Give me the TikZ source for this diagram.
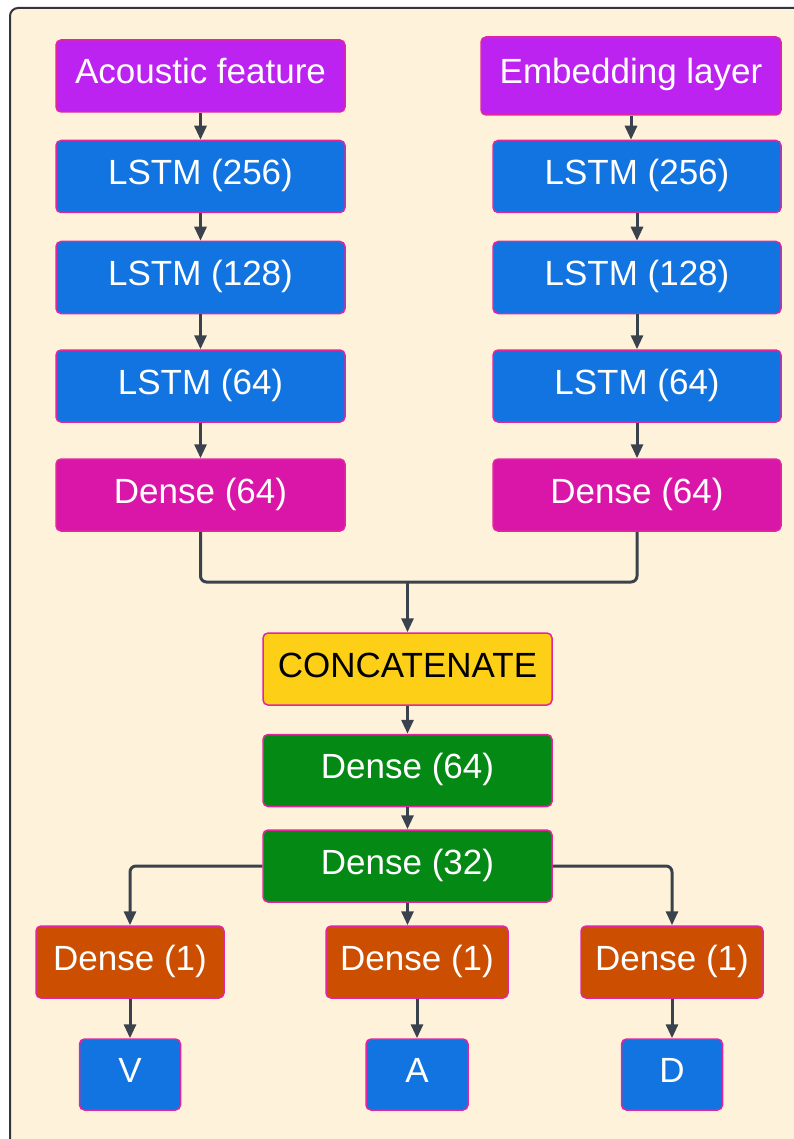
\documentclass[tikz,border=0pt]{standalone}
\usepackage{fontspec}
\setmainfont{Liberation Sans}
\usetikzlibrary{arrows.meta,calc}
\definecolor{cream}{HTML}{FFF2DB}
\definecolor{frameline}{HTML}{33373D}
\definecolor{cpurple}{HTML}{BC22F0}
\definecolor{cblue}{HTML}{1174E1}
\definecolor{cpink}{HTML}{DA16A8}
\definecolor{cyellow}{HTML}{FDCF16}
\definecolor{cgreen}{HTML}{048A14}
\definecolor{corange}{HTML}{CC4E00}
\definecolor{edgepink}{HTML}{E0279E}
\definecolor{wire}{HTML}{3A424D}
\tikzset{
  layer/.style={draw=edgepink, line width=1.5pt, rounded corners=5pt, inner sep=0pt,
    text=white, font=\fontsize{35}{42}\selectfont, align=center,
    text height=26pt, text depth=10pt},
  wide/.style={layer, minimum width=289pt, minimum height=72pt},
  purplebox/.style={fill=cpurple},
  bluebox/.style={fill=cblue},
  pinkbox/.style={fill=cpink},
  greenbox/.style={fill=cgreen},
  orangebox/.style={layer, fill=corange, minimum width=184pt, minimum height=72pt},
  outbox/.style={layer, fill=cblue, minimum width=101pt, minimum height=71pt},
  link/.style={draw=wire, line width=3pt, -{Triangle[length=14pt,width=12pt]}},
  joint/.style={draw=wire, line width=3pt, rounded corners=6pt}
}
\begin{document}
\begin{tikzpicture}[x=1pt,y=-1pt]
\useasboundingbox (0,0) rectangle (794,1139);
\fill[white] (0,0) rectangle (794,1139);
\begin{scope}
\clip (0,0) rectangle (794,1139);
\draw[draw=frameline, line width=2pt, fill=cream, rounded corners=8pt] (10,8) rectangle (830,1180);
\end{scope}

% audio branch
\node[wide, purplebox] (af) at (200.5,76) {Acoustic feature};
\node[wide, bluebox] (l1) at (200.5,176.5) {LSTM (256)};
\node[wide, bluebox] (l2) at (200.5,277.5) {LSTM (128)};
\node[wide, bluebox] (l3) at (200.5,386) {LSTM (64)};
\node[wide, pinkbox] (d1) at (200.5,495) {Dense (64)};

% text branch
\node[wide, purplebox, minimum width=300pt, minimum height=78pt] (eb) at (631,76) {Embedding layer};
\node[wide, bluebox, minimum width=288pt] (r1) at (637,176.5) {LSTM (256)};
\node[wide, bluebox, minimum width=288pt] (r2) at (637,277.5) {LSTM (128)};
\node[wide, bluebox, minimum width=288pt] (r3) at (637,386) {LSTM (64)};
\node[wide, pinkbox, minimum width=288pt] (rd) at (637,495) {Dense (64)};

% fusion and heads
\node[wide, fill=cyellow, text=black] (cc) at (407.5,669) {CONCATENATE};
\node[wide, greenbox] (g1) at (407.5,770.5) {Dense (64)};
\node[wide, greenbox] (g2) at (407.5,866) {Dense (32)};
\node[orangebox, minimum width=188pt] (o1) at (130,962) {Dense (1)};
\node[orangebox, minimum width=182pt] (o2) at (417,962) {Dense (1)};
\node[orangebox, minimum width=182pt] (o3) at (672,962) {Dense (1)};
\node[outbox] (v) at (130,1074.5) {V};
\node[outbox, minimum width=102pt] (a) at (417,1074.5) {A};
\node[outbox] (dd) at (672,1074.5) {D};

\coordinate (mid) at (407.5,582);

% connectors
\draw[link] (af.south) -- (l1.north);
\draw[link] (l1.south) -- (l2.north);
\draw[link] (l2.south) -- (l3.north);
\draw[link] (l3.south) -- (d1.north);
\draw[link] (eb.south) -- (eb.south |- r1.north);
\draw[link] (r1.south) -- (r2.north);
\draw[link] (r2.south) -- (r3.north);
\draw[link] (r3.south) -- (rd.north);
\draw[joint] (d1.south) -- (d1.south |- mid) -- (rd.south |- mid) -- (rd.south);
\draw[link] (mid) -- (cc.north);
\draw[link] (cc.south) -- (g1.north);
\draw[link] (g1.south) -- (g2.north);
\draw[link, rounded corners=6pt] (g2.west) -| (o1.north);
\draw[link, rounded corners=6pt] (g2.east) -| (o3.north);
\draw[link] (g2.south) -- (g2.south |- o2.north);
\draw[link] (o1.south) -- (v.north);
\draw[link] (o2.south) -- (a.north);
\draw[link] (o3.south) -- (dd.north);
\end{tikzpicture}
\end{document}
